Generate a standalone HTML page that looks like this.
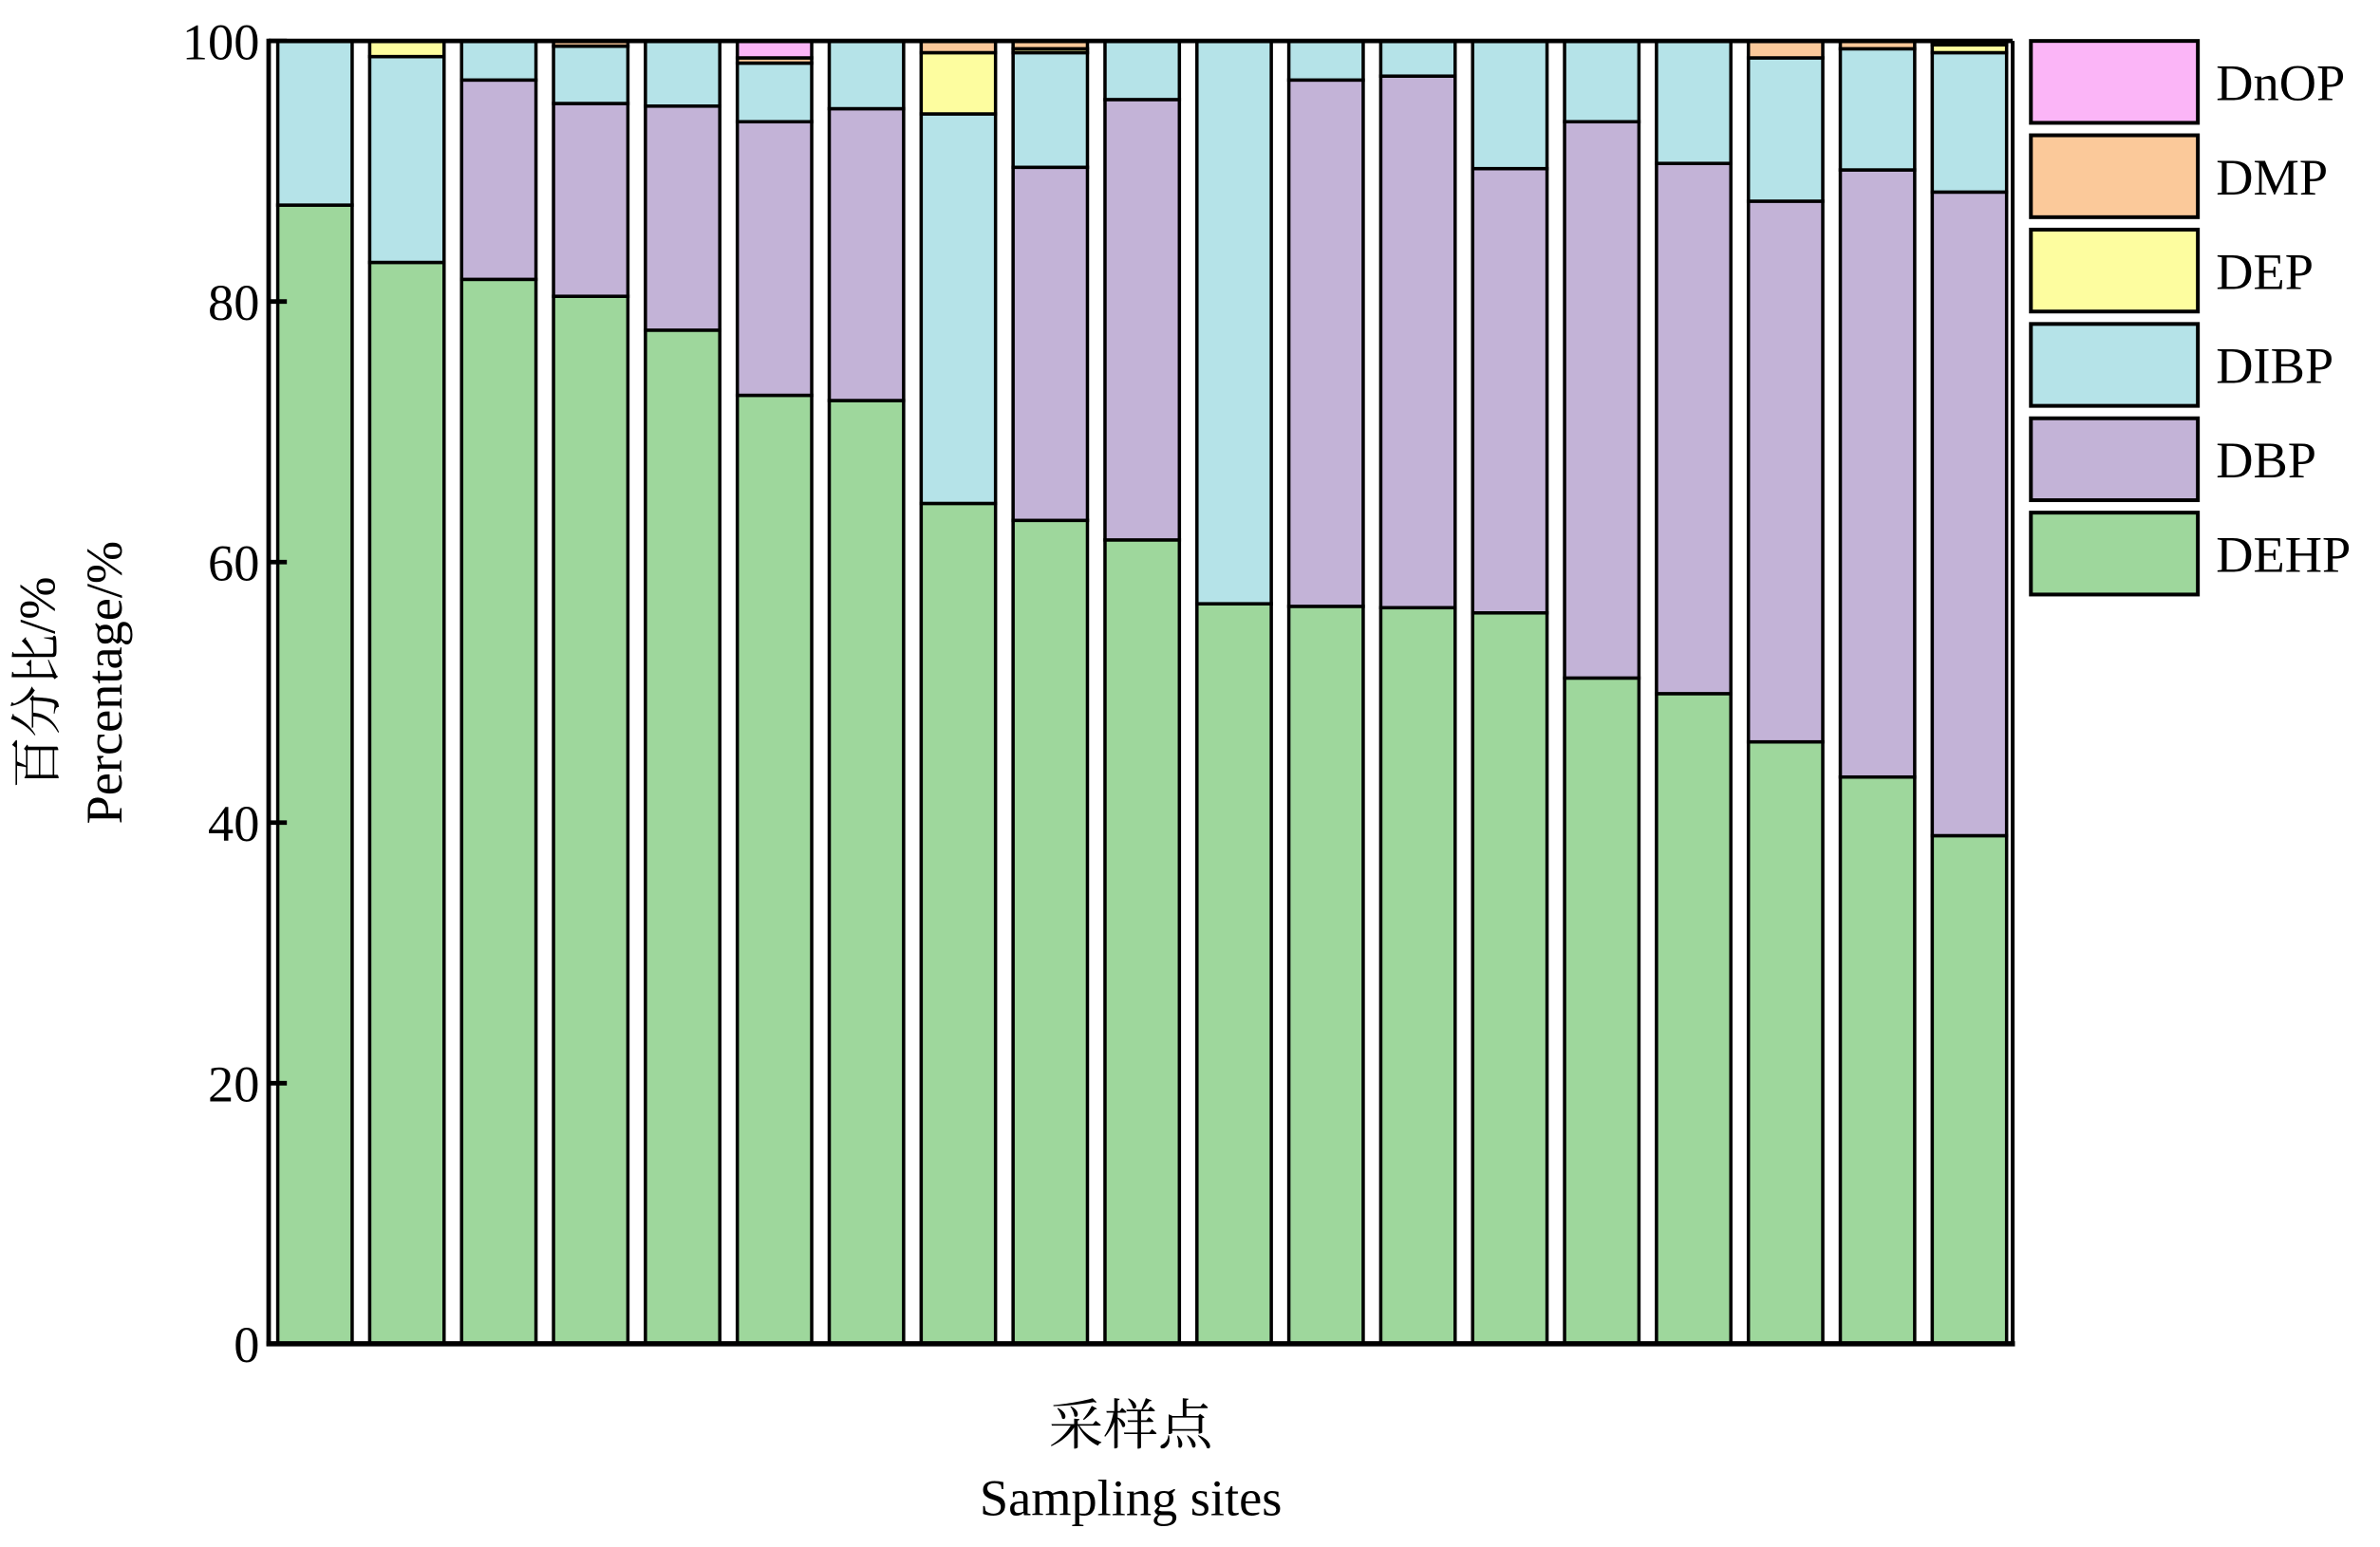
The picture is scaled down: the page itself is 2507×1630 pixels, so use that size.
<!DOCTYPE html>
<html><head><meta charset="utf-8"><style>
html,body{margin:0;padding:0;background:#fff;}
svg{display:block;}
text{font-family:"Liberation Serif","Noto Serif CJK SC",serif;fill:#000;}
</style></head><body>
<svg id="chart" width="2507" height="1630" viewBox="0 0 1568 1020" preserveAspectRatio="none" xmlns="http://www.w3.org/2000/svg">
<g id="bars"></g>
<g id="axes"></g>
<g id="legend"></g>
<text transform="translate(36,450) rotate(-90)" text-anchor="middle" font-size="34">百分比/%</text>
<text transform="translate(80,450) rotate(-90)" text-anchor="middle" font-size="34">Percentage/%</text>
<text x="745" y="952" text-anchor="middle" font-size="36">采样点</text>
<text x="745" y="999" text-anchor="middle" font-size="34">Sampling sites</text>
</svg>
<script>
const seriesNames = ["DEHP","DBP","DIBP","DEP","DMP","DnOP"];
const seriesColors = ["#9ed79c","#c3b3d7","#b5e3e8","#fdfd9f","#fbc99a","#fbb5f7"];
const DEHP = [87.4,83.0,81.7,80.4,77.8,72.8,72.4,64.5,63.2,61.7,56.8,56.6,56.5,56.1,51.1,49.9,46.2,43.5,39.0];
const DBP  = [0,0,15.3,14.8,17.2,21.0,22.4,0,27.1,33.8,0,40.4,40.8,34.1,42.7,40.7,41.5,46.6,49.4];
const DIBP = [12.6,15.8,3.0,4.4,5.0,4.5,5.2,29.9,8.8,4.5,43.2,3.0,2.7,9.8,6.2,9.4,11.0,9.3,10.7];
const DEP  = [0,1.2,0,0,0,0,0,4.7,0.3,0,0,0,0,0,0,0,0,0,0.6];
const DMP  = [0,0,0,0.4,0,0.4,0,0.9,0.6,0,0,0,0,0,0,0,1.3,0.6,0.3];
const DnOP = [0,0,0,0,0,1.3,0,0,0,0,0,0,0,0,0,0,0,0,0];
const yTicks = [0,20,40,60,80,100];
const series = [DEHP,DBP,DIBP,DEP,DMP,DnOP];

const NS="http://www.w3.org/2000/svg";
const L=177,R=1326,T=27,B=886;
const y = v => B - (v/100)*(B-T);
const n = DEHP.length;
const first=183,last=1273,bw=49;
const x = i => first + i*(last-first)/(n-1);
const gb=document.getElementById('bars');
for(let i=0;i<n;i++){
  let acc=0;
  for(let s=0;s<series.length;s++){
    const v=series[s][i]; if(!v) continue;
    const r=document.createElementNS(NS,'rect');
    
    
    r.setAttribute('x',x(i)); r.setAttribute('width',bw);
    r.setAttribute('y',y(acc+v)); r.setAttribute('height',y(acc)-y(acc+v));
    r.setAttribute('fill',seriesColors[s]); r.setAttribute('stroke','#000'); r.setAttribute('stroke-width','2.2');
    gb.appendChild(r); acc+=v;
  }
}
const ga=document.getElementById('axes');
function line(x1,y1,x2,y2,w,name){
  const l=document.createElementNS(NS,'line');
  
  
  l.setAttribute('x1',x1);l.setAttribute('y1',y1);l.setAttribute('x2',x2);l.setAttribute('y2',y2);
  l.setAttribute('stroke','#000');l.setAttribute('stroke-width',w);ga.appendChild(l);
}
line(L,T,R,T,3,'plot-frame-top');
line(R,T,R,B,2.5,'plot-frame-right');
line(L,T-1.5,L,B+1.5,3,'y-axis-line');
line(L-1.5,B,R+1.5,B,3.5,'x-axis-line');
yTicks.forEach(v=>{
  line(L,y(v),L+12,y(v),3,'y-tick-'+v);
  const t=document.createElementNS(NS,'text');
  
  
  t.setAttribute('x',L-6);t.setAttribute('y',y(v)+12);t.setAttribute('text-anchor','end');t.setAttribute('font-size','34');
  t.textContent=v;ga.appendChild(t);
});
const gl=document.getElementById('legend');
const order=[5,4,3,2,1,0];
order.forEach((s,k)=>{
  const top=27+k*62.2;
  const r=document.createElementNS(NS,'rect');
  
  
  r.setAttribute('x',1338);r.setAttribute('y',top);r.setAttribute('width',110);r.setAttribute('height',54);
  r.setAttribute('fill',seriesColors[s]);r.setAttribute('stroke','#000');r.setAttribute('stroke-width','2.5');
  gl.appendChild(r);
  const t=document.createElementNS(NS,'text');
  
  
  t.setAttribute('x',1460);t.setAttribute('y',top+39);t.setAttribute('font-size','34');
  t.textContent=seriesNames[s];gl.appendChild(t);
});
</script>
</body></html>
